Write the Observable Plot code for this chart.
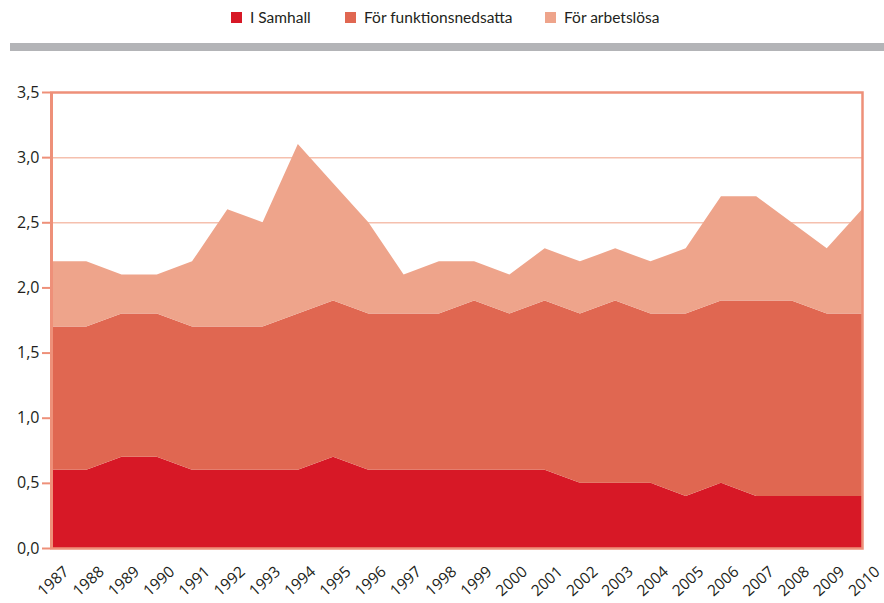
<!DOCTYPE html>
<html>
<head>
<meta charset="utf-8">
<script src="https://cdn.jsdelivr.net/npm/d3@7"></script>
<script src="https://cdn.jsdelivr.net/npm/@observablehq/plot@0.6"></script>
<style>
  html, body { margin: 0; padding: 0; background: #fff; }
  body { width: 884px; height: 603px; position: relative; overflow: hidden; font-family: "Open Sans", sans-serif; }
  #legend { position: absolute; left: 0; top: 0; width: 884px; height: 36px; font-family: Lato, sans-serif; font-size: 15.5px; color: #231f20; }
  .item { position: absolute; top: 8px; display: flex; align-items: center; white-space: nowrap; }
  .sw { width: 11px; height: 11px; margin-right: 8px; }
  #bar { position: absolute; left: 10px; top: 43px; width: 874px; height: 8px; background: #b3b4b7; }
  #chart { position: absolute; left: 0; top: 60px; }
</style>
</head>
<body>
<div id="legend"></div>
<div id="bar"></div>
<div id="chart"></div>
<script>
const years = [1987,1988,1989,1990,1991,1992,1993,1994,1995,1996,1997,1998,1999,2000,2001,2002,2003,2004,2005,2006,2007,2008,2009,2010];
const samhall = [0.6,0.6,0.7,0.7,0.6,0.6,0.6,0.6,0.7,0.6,0.6,0.6,0.6,0.6,0.6,0.5,0.5,0.5,0.4,0.5,0.4,0.4,0.4,0.4];
const funktionsnedsatta = [1.1,1.1,1.1,1.1,1.1,1.1,1.1,1.2,1.2,1.2,1.2,1.2,1.3,1.2,1.3,1.3,1.4,1.3,1.4,1.4,1.5,1.5,1.4,1.4];
const arbetslosa = [0.5,0.5,0.3,0.3,0.5,0.9,0.8,1.3,0.9,0.7,0.3,0.4,0.3,0.3,0.4,0.4,0.4,0.4,0.5,0.8,0.8,0.6,0.5,0.8];
const seriesNames = ["I Samhall", "För funktionsnedsatta", "För arbetslösa"];
const seriesColors = ["#d71826", "#e06751", "#eea48b"];
const yTicks = [0, 0.5, 1, 1.5, 2, 2.5, 3, 3.5];

const seriesValues = [samhall, funktionsnedsatta, arbetslosa];
const data = [];
seriesNames.forEach((name, si) => {
  years.forEach((yr, i) => data.push({year: yr, series: name, value: seriesValues[si][i]}));
});

// legend
const legendX = [231, 345, 545];
const legend = document.getElementById("legend");
seriesNames.forEach((name, i) => {
  const it = document.createElement("div");
  it.className = "item";
  it.style.left = legendX[i] + "px";
  it.innerHTML = `<span class="sw" style="background:${seriesColors[i]}"></span><span>${name}</span>`;
  legend.appendChild(it);
});

const fmt = d => d.toFixed(1).replace(".", ",");
const frameColor = "#ee9079";

const plot = Plot.plot({
  width: 884,
  height: 543,
  marginTop: 32,
  marginBottom: 55,
  marginLeft: 51,
  marginRight: 22,
  style: {fontFamily: "'Open Sans', sans-serif", fontSize: "15px", color: "#231f20", background: "transparent"},
  x: {domain: [1987, 2010], type: "linear", axis: null},
  y: {domain: [0, 3.5]},
  color: {domain: seriesNames, range: seriesColors},
  marks: [
    Plot.ruleY(yTicks.filter(d => d > 0 && d < 3.5), {stroke: "#f5c0ae", strokeWidth: 1.5}),
    Plot.areaY(data, Plot.stackY({x: "year", y: "value", fill: "series", order: seriesNames})),
    Plot.frame({stroke: frameColor, strokeWidth: 2.5}),
    Plot.ruleX([1987], {stroke: frameColor, strokeWidth: 3}),
    Plot.axisY({ticks: yTicks, tickFormat: fmt, tickSize: 9, tickPadding: 3, stroke: frameColor, strokeWidth: 2, label: null, fontSize: 16}),
    Plot.text(years, {x: d => d, text: d => String(d), frameAnchor: "bottom", rotate: -42, textAnchor: "end", lineAnchor: "middle", dx: 15, dy: 21, fontSize: 15.5, fill: "#231f20"})
  ]
});
document.getElementById("chart").appendChild(plot);
</script>
</body>
</html>
